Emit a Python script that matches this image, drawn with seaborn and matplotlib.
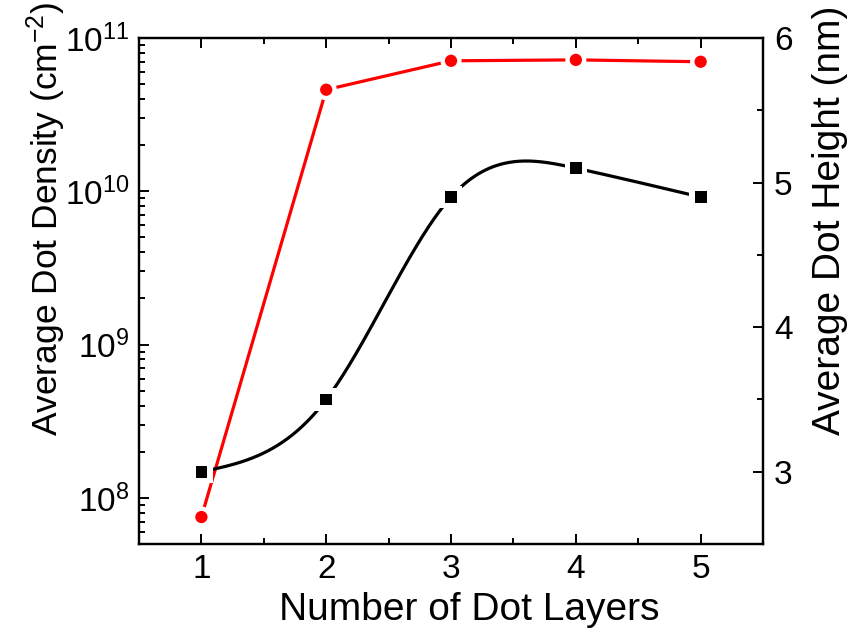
import numpy as np
import pandas as pd
import matplotlib
matplotlib.use("Agg")
import matplotlib.pyplot as plt
import seaborn as sns
from matplotlib.ticker import LogLocator, MultipleLocator, NullFormatter, FixedLocator, FixedFormatter

# Measured values per number of stacked dot layers
layers = [1, 2, 3, 4, 5]
dot_density = [7.5e7, 4.6e10, 7.1e10, 7.2e10, 7.0e10]   # cm^-2
dot_height = [3.0, 3.5, 4.9, 5.1, 4.9]                  # nm

layer_ticks = [1, 2, 3, 4, 5]
density_ticks = [1e8, 1e9, 1e10, 1e11]
density_tick_labels = [r"$\mathregular{10^{8}}$", r"$\mathregular{10^{9}}$",
                       r"$\mathregular{10^{10}}$", r"$\mathregular{10^{11}}$"]
height_ticks = [3, 4, 5, 6]

sns.set_style("ticks")
plt.rcParams["font.family"] = ["Liberation Sans", "DejaVu Sans"]
plt.rcParams["mathtext.fontset"] = "custom"
plt.rcParams["mathtext.rm"] = "Liberation Sans"
plt.rcParams["mathtext.it"] = "Liberation Sans:italic"
plt.rcParams["mathtext.bf"] = "Liberation Sans:bold"
for key in ("text.color", "axes.labelcolor", "xtick.color", "ytick.color",
            "axes.edgecolor"):
    plt.rcParams[key] = "black"


def natural_cubic_spline(x, y, num=400):
    """Evaluate a natural cubic spline through (x, y) on a dense grid."""
    x = np.asarray(x, float)
    y = np.asarray(y, float)
    n = len(x)
    h = np.diff(x)
    A = np.zeros((n, n))
    b = np.zeros(n)
    A[0, 0] = A[-1, -1] = 1.0
    for i in range(1, n - 1):
        A[i, i - 1] = h[i - 1]
        A[i, i] = 2 * (h[i - 1] + h[i])
        A[i, i + 1] = h[i]
        b[i] = 6 * ((y[i + 1] - y[i]) / h[i] - (y[i] - y[i - 1]) / h[i - 1])
    M = np.linalg.solve(A, b)
    xs = np.linspace(x[0], x[-1], num)
    idx = np.clip(np.searchsorted(x, xs) - 1, 0, n - 2)
    x0, x1 = x[idx], x[idx + 1]
    hh = x1 - x0
    t0, t1 = x1 - xs, xs - x0
    ys = (M[idx] * t0 ** 3 + M[idx + 1] * t1 ** 3) / (6 * hh) \
        + (y[idx] / hh - M[idx] * hh / 6) * t0 \
        + (y[idx + 1] / hh - M[idx + 1] * hh / 6) * t1
    return xs, ys


fig = plt.figure(figsize=(8.56, 6.42), dpi=100)
ax = fig.add_axes([0.1624, 0.1526, 0.729, 0.7882])
ax2 = ax.twinx()

density_df = pd.DataFrame({"layers": layers, "density": dot_density})
height_df = pd.DataFrame({"layers": layers, "height": dot_height})
sx, sy = natural_cubic_spline(layers, dot_height)
spline_df = pd.DataFrame({"layers": sx, "height": sy})

# Density: straight segments, circles with a white gap ring
sns.lineplot(data=density_df, x="layers", y="density", ax=ax, color="#ff0000",
             linewidth=2.3, zorder=2)
sns.scatterplot(data=density_df, x="layers", y="density", ax=ax, color="white",
                marker="o", s=230, edgecolor="none", zorder=3, clip_on=False)
sns.scatterplot(data=density_df, x="layers", y="density", ax=ax, color="#ff0000",
                marker="o", s=78, edgecolor="none", zorder=4, clip_on=False)

# Height: smooth spline, squares with a white gap ring
sns.lineplot(data=spline_df, x="layers", y="height", ax=ax2, color="black",
             linewidth=2.3, zorder=2, sort=False)
sns.scatterplot(data=height_df, x="layers", y="height", ax=ax2, color="white",
                marker="s", s=260, edgecolor="none", zorder=3)
sns.scatterplot(data=height_df, x="layers", y="height", ax=ax2, color="black",
                marker="s", s=72, edgecolor="none", zorder=4)

# Left axis (log density)
ax.set_yscale("log")
ax.set_ylim(5e7, 1e11)
ax.yaxis.set_major_locator(FixedLocator(density_ticks))
ax.yaxis.set_major_formatter(FixedFormatter(density_tick_labels))
ax.yaxis.set_minor_locator(LogLocator(base=10, subs=np.arange(2, 10)))
ax.yaxis.set_minor_formatter(NullFormatter())

# Bottom axis
ax.set_xlim(0.5, 5.5)
ax.xaxis.set_major_locator(FixedLocator(layer_ticks))
ax.xaxis.set_minor_locator(MultipleLocator(0.5))

# Right axis (height)
ax2.set_ylim(2.5, 6)
ax2.yaxis.set_major_locator(FixedLocator(height_ticks))
ax2.yaxis.set_minor_locator(MultipleLocator(0.5))

for a in (ax, ax2):
    for sp in a.spines.values():
        sp.set_linewidth(1.6)
        sp.set_color("black")

ax.tick_params(axis="x", which="both", direction="in", top=True, bottom=True,
               width=1.4, labelsize=24, pad=7)
ax.tick_params(axis="y", which="both", direction="in", left=True, right=False,
               width=1.4, labelsize=24, pad=7)
ax.tick_params(which="major", length=7)
ax.tick_params(which="minor", length=4.5)
ax2.tick_params(axis="y", which="both", direction="in", right=True, left=False,
                width=1.4, labelsize=24, pad=8)
ax2.tick_params(which="major", length=7)
ax2.tick_params(which="minor", length=4.5)

ax.set_xlabel("Number of Dot Layers", fontsize=28)
ax.set_ylabel(r"Average Dot Density (cm$^{\mathregular{-2}}$)", fontsize=25.5)
ax2.set_ylabel("Average Dot Height (nm)", fontsize=28)
ax.xaxis.set_label_coords(0.53, -0.095)
ax.yaxis.set_label_coords(-0.114, 0.642)
ax2.yaxis.set_label_coords(1.0785, 0.64)

fig.savefig("out.png", dpi=100, facecolor="white")
